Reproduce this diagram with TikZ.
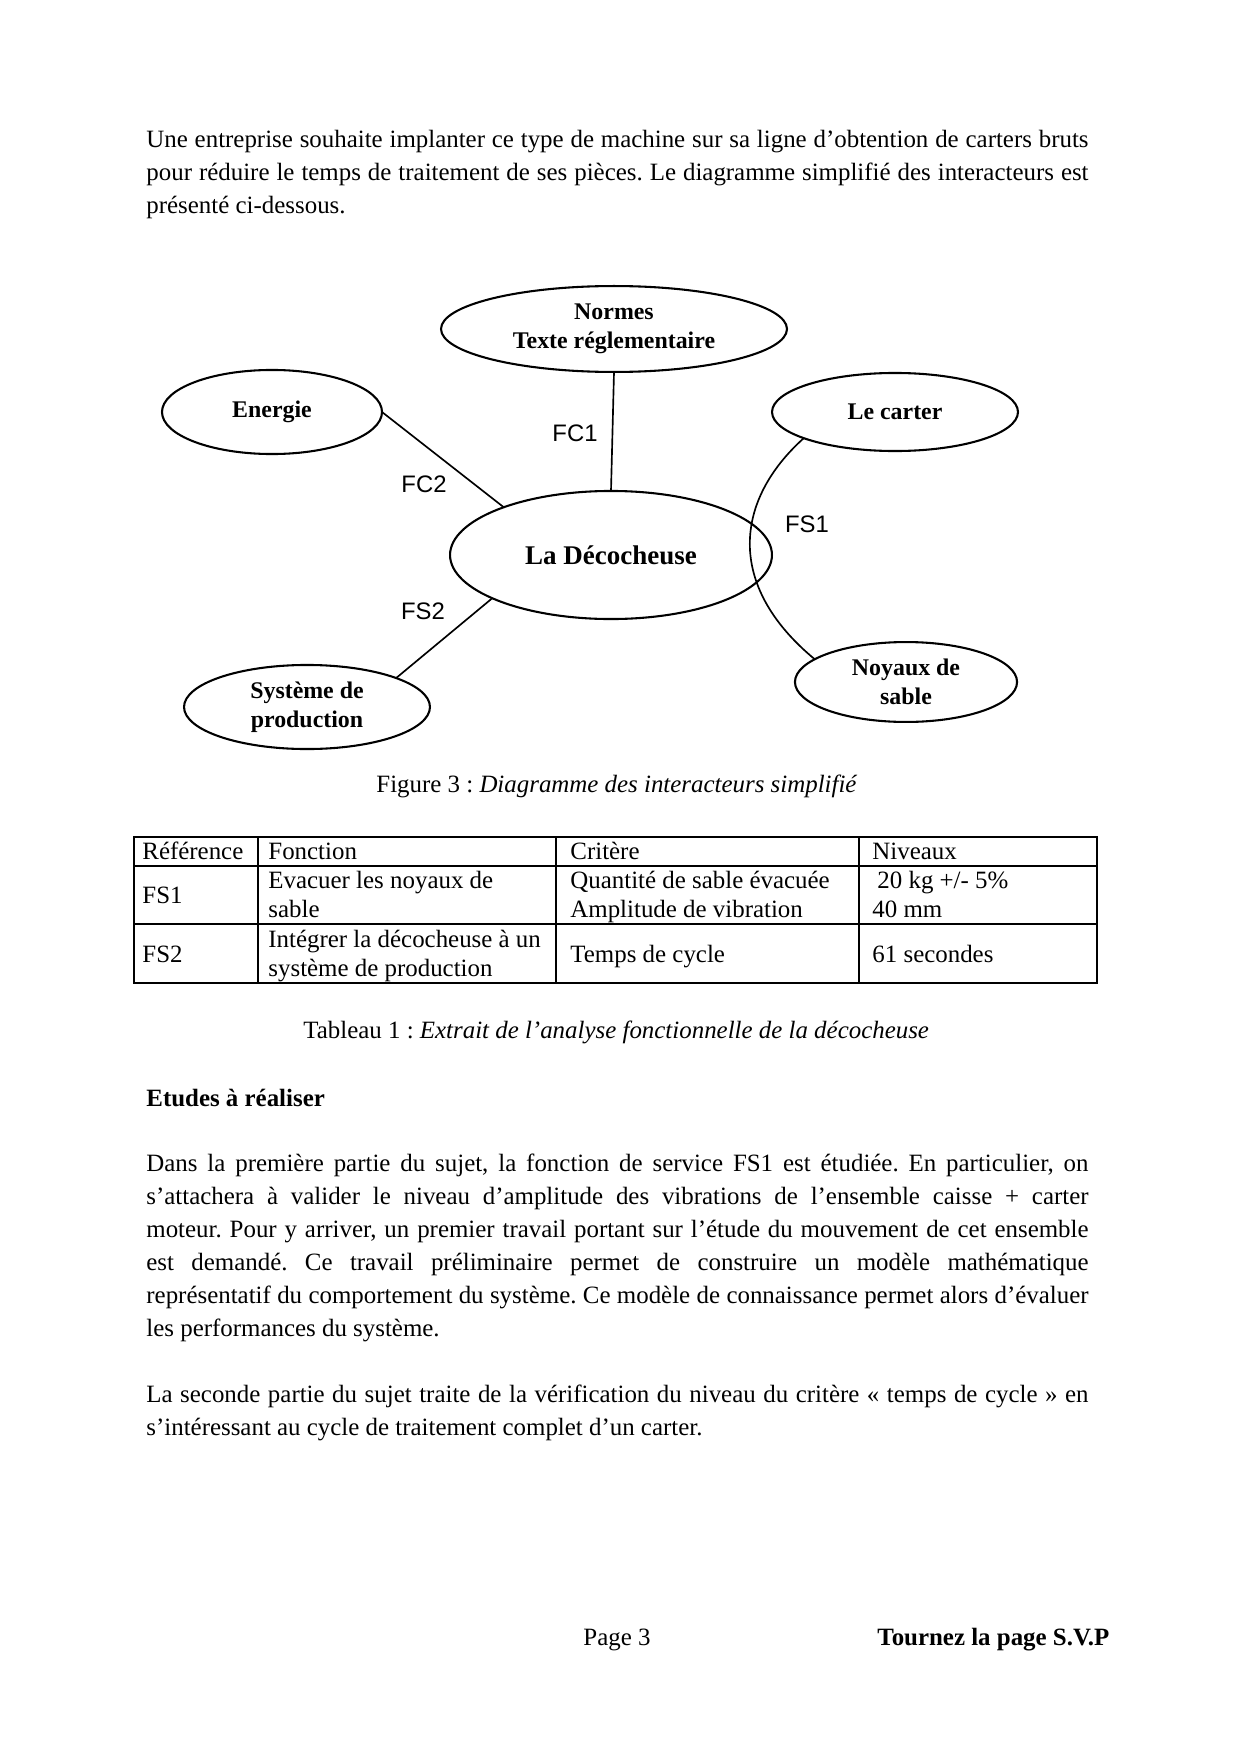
\documentclass[tikz,border=0pt]{standalone}
\usepackage{fontspec}
\setmainfont{Liberation Serif}
\newfontfamily\arialf{Liberation Sans}
\usetikzlibrary{shapes.geometric}
\newcommand\jline[1]{\makebox[453.9pt][s]{#1}}
\frenchspacing
\begin{document}
\frenchspacing
\begin{tikzpicture}[x=0.4818pt,y=-0.4818pt,
  bubble/.style={draw,ellipse,line width=1pt,inner sep=0pt,outer sep=0pt,align=center,font=\fontsize{11.5}{13.8}\selectfont\bfseries},
  link/.style={line width=0.8pt},
  flabel/.style={font=\arialf\fontsize{11.5}{13.8}\selectfont,inner sep=0pt},
  body/.style={anchor=base west,inner sep=0pt,font=\fontsize{12}{14}\selectfont},
  tline/.style={line width=0.7pt}]
\fill[white] (0,0) rectangle (1240,1754);
\useasboundingbox (0,0) rectangle (1240,1754);

% first paragraph
\node[body] (p1a) at (146,148) {\jline{Une entreprise souhaite implanter ce type de machine sur sa ligne d’obtention de carters bruts}};
\node[body] (p1b) at (146,181) {\jline{pour réduire le temps de traitement de ses pièces. Le diagramme simplifié des interacteurs est}};
\node[body] (p1c) at (146,214) {présenté ci-dessous.};

% diagram
\node[bubble,minimum width=166.7pt,minimum height=41.4pt] (normes) at (614,329) {Normes\\Texte réglementaire};
\node[bubble,minimum width=106pt,minimum height=40.5pt] (ener) at (272,412) {Energie};
\node[bubble,minimum width=118.5pt,minimum height=37.6pt] (carter) at (895,412) {Le carter};
\node[bubble,minimum width=155.1pt,minimum height=61.7pt,font=\fontsize{13}{15}\selectfont\bfseries] (deco) at (611,555) {La Décocheuse};
\node[bubble,minimum width=118.5pt,minimum height=40.5pt] (sys) at (307,707) {Système de\\production};
\node[bubble,minimum width=107pt,minimum height=38.5pt] (noy) at (906,682) {Noyaux de\\sable};

\draw[link] (normes.south) -- (deco.north);
\draw[link] (ener.east) -- (deco.156);
\draw[link] (deco.200) -- (sys.18);
\draw[link] (carter.196) .. controls (735,500) and (725,585) .. (noy.166);

\node[flabel] (lfc1) at (575,433) {FC1};
\node[flabel] (lfc2) at (424,484) {FC2};
\node[flabel] (lfs1) at (807,524) {FS1};
\node[flabel] (lfs2) at (423,611) {FS2};

\node[body] (cap1) at (376,792) {Figure 3 : \textit{Diagramme des interacteurs simplifié}};

% table
\draw[tline] (134,837) rectangle (1097,983);
\draw[tline] (134,866) -- (1097,866);
\draw[tline] (134,924) -- (1097,924);
\draw[tline] (258,837) -- (258,983);
\draw[tline] (556,837) -- (556,983);
\draw[tline] (859,837) -- (859,983);

\node[body] (h1) at (142,859) {Référence};
\node[body] (h2) at (268,859) {Fonction};
\node[body] (h3) at (570,859) {Critère};
\node[body] (h4) at (872,859) {Niveaux};

\node[body] (r1a) at (142,903) {FS1};
\node[body] (r1b) at (268,888) {Evacuer les noyaux de};
\node[body] (r1c) at (268,917) {sable};
\node[body] (r1d) at (570,888) {Quantité de sable évacuée};
\node[body] (r1e) at (570,917) {Amplitude de vibration};
\node[body] (r1f) at (877,888) {20 kg +/- 5\%};
\node[body] (r1g) at (872,917) {40 mm};

\node[body] (r2a) at (142,962) {FS2};
\node[body] (r2b) at (268,947) {Intégrer la décocheuse à un};
\node[body] (r2c) at (268,976) {système de production};
\node[body] (r2d) at (570,962) {Temps de cycle};
\node[body] (r2e) at (872,962) {61 secondes};

\node[body] (cap2) at (303,1038) {Tableau 1 : \textit{Extrait de l’analyse fonctionnelle de la décocheuse}};

\node[body,font=\fontsize{12}{14}\selectfont\bfseries] (etu) at (146,1106) {Etudes à réaliser};

\node[body] (p2a) at (146,1171) {\jline{Dans la première partie du sujet, la fonction de service FS1 est étudiée. En particulier, on}};
\node[body] (p2b) at (146,1204) {\jline{s’attachera à valider le niveau d’amplitude des vibrations de l’ensemble caisse + carter}};
\node[body] (p2c) at (146,1237) {\jline{moteur. Pour y arriver, un premier travail portant sur l’étude du mouvement de cet ensemble}};
\node[body] (p2d) at (146,1270) {\jline{est demandé. Ce travail préliminaire permet de construire un modèle mathématique}};
\node[body] (p2e) at (146,1303) {\jline{représentatif du comportement du système. Ce modèle de connaissance permet alors d’évaluer}};
\node[body] (p2f) at (146,1336) {les performances du système.};

\node[body] (p3a) at (146,1402) {\jline{La seconde partie du sujet traite de la vérification du niveau du critère « temps de cycle » en}};
\node[body] (p3b) at (146,1435) {s’intéressant au cycle de traitement complet d’un carter.};

\node[body] (pg) at (583,1645) {Page 3};
\node[body,font=\fontsize{12}{14}\selectfont\bfseries] (tp) at (877,1645) {Tournez la page S.V.P};
\end{tikzpicture}
\end{document}
